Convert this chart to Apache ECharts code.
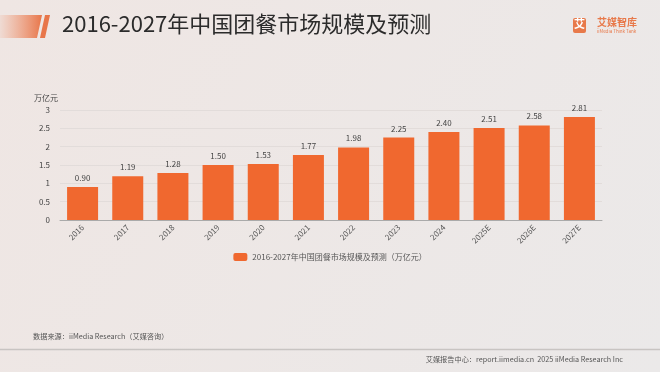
<!DOCTYPE html>
<html><head><meta charset="utf-8">
<script src="https://cdn.jsdelivr.net/npm/echarts@6/dist/echarts.min.js"></script>
<style>html,body{margin:0;padding:0;}#c{width:660px;height:372px;}</style>
</head><body><div id="c"></div>
<script>
const categories = ['2016','2017','2018','2019','2020','2021','2022','2023','2024','2025E','2026E','2027E'];
const values = [0.90,1.19,1.28,1.50,1.53,1.77,1.98,2.25,2.40,2.51,2.58,2.81];
const seriesName = '2016-2027年中国团餐市场规模及预测（万亿元）';
const chart = echarts.init(document.getElementById('c'));
const font = '"Noto Sans CJK SC","Noto Sans",sans-serif';
chart.setOption({
  backgroundColor: new echarts.graphic.LinearGradient(0,0,1,1,[{offset:0,color:'#efe6e3'},{offset:1,color:'#ebe9e9'}]),
  textStyle:{fontFamily:font},
  grid:{left:60,right:58,top:110,bottom:152},
  legend:{bottom:106,left:'center',itemWidth:14,itemHeight:8,itemGap:6,
    textStyle:{fontSize:8,color:'#555'},data:[seriesName]},
  xAxis:{type:'category',data:categories,
    axisLine:{lineStyle:{color:'#aaa'}},axisTick:{show:false},
    axisLabel:{rotate:45,fontSize:8,color:'#555',margin:6,interval:0}},
  yAxis:{type:'value',min:0,max:3,interval:0.5,name:'万亿元',
    nameTextStyle:{fontSize:8,color:'#444',padding:[0,28,0,0]},nameGap:8,
    axisLine:{show:false},axisTick:{show:false},
    axisLabel:{fontSize:8,color:'#444',margin:10,formatter:v=>String(v)},
    splitLine:{lineStyle:{color:'#e2dcda',width:1}}},
  series:[{name:seriesName,type:'bar',data:values,barWidth:31,
    itemStyle:{color:'#f0682f'},
    label:{show:true,position:'top',fontSize:8,color:'#444',formatter:p=>p.value.toFixed(2)}}],
  graphic:[
    {type:'polygon',shape:{points:[[0,15],[42,15],[37,38],[0,38]]},
      style:{fill:new echarts.graphic.LinearGradient(0,0,1,0,[{offset:0,color:'rgba(240,140,100,0.12)'},{offset:1,color:'#e8764a'}])}},
    {type:'polygon',shape:{points:[[45,15],[50,15],[45,38],[40,38]]},style:{fill:'#e8764a'}},
    {type:'text',left:62,top:13,style:{text:'2016-2027年中国团餐市场规模及预测',fontSize:22,fill:'#2b2b2b',fontFamily:font}},
    {type:'rect',shape:{x:573,y:18,width:13,height:15,r:2},style:{fill:'#e8794a'}},
    {type:'text',left:574,top:18,style:{text:'艾',fontSize:11,fill:'#fff',fontWeight:'bold',fontFamily:font}},
    {type:'text',left:597,top:17,style:{text:'艾媒智库',fontSize:10,fill:'#e8794a',fontWeight:'bold',fontFamily:font}},
    {type:'text',left:597,top:29,style:{text:'iiMedia Think Tank',fontSize:4.5,fill:'#e8794a',fontFamily:font}},
    {type:'text',left:33,top:333,style:{text:'数据来源：iiMedia Research（艾媒咨询）',fontSize:7.2,fill:'#555',fontFamily:font}},
    {type:'line',shape:{x1:0,y1:349.5,x2:660,y2:349.5},style:{stroke:'#c8c4c2',lineWidth:1.5}},
    {type:'text',right:37,top:356,style:{text:'艾媒报告中心：report.iimedia.cn  2025 iiMedia Research Inc',fontSize:7.2,fill:'#555',fontFamily:font}}
  ]
});
</script></body></html>
